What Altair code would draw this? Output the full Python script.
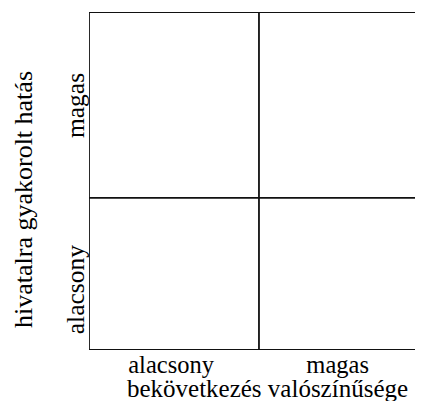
import altair as alt
import pandas as pd

# Category labels (x: likelihood of occurrence, y: impact on office)
x_labels = ["alacsony", "magas"]
y_labels = ["alacsony", "magas"]
x_title = "bekövetkezés valószínűsége"
y_title = "hivatalra gyakorolt hatás"

# Cell boundaries in the chart's own units
x_edges = [0, 1, 2]
y_edges = [0, 0.9, 2]
# Visible part of the x range (the picture is cropped at the right)
x_view = [0, 1.918]
y_view = [0, 2]
# Where the category labels sit
x_label_pos = [0.48, 1.46]
y_label_pos = [0.36, 1.45]

vlines = pd.DataFrame({"x": x_edges, "y0": y_edges[0], "y1": y_edges[-1]})
hlines = pd.DataFrame({"y": y_edges, "x0": x_edges[0], "x1": x_edges[-1]})

FONT = "Liberation Serif, Times New Roman, serif"

def label_expr(pos, labels):
    mid = (pos[0] + pos[1]) / 2
    return f"datum.value < {mid} ? '{labels[0]}' : '{labels[1]}'"

x_scale = alt.Scale(domain=x_view, nice=False, zero=False)
y_scale = alt.Scale(domain=y_view, nice=False, zero=False)

x_axis = alt.Axis(
    values=x_label_pos, labelExpr=label_expr(x_label_pos, x_labels),
    domain=False, ticks=False, tickSize=0, grid=False,
    labelFont=FONT, labelFontSize=24.5, labelColor="#000", labelBaseline="alphabetic",
    labelPadding=22, labelAlign="center", labelFlush=False,
    title=x_title, titleFont=FONT, titleFontSize=25, titleFontWeight="normal",
    titleColor="#000", titleBaseline="alphabetic", titleAlign="center",
    titleX=178, titleY=46.5,
)
y_axis = alt.Axis(
    values=y_label_pos, labelExpr=label_expr(y_label_pos, y_labels),
    domain=False, ticks=False, tickSize=0, grid=False,
    labelFont=FONT, labelFontSize=25.5, labelColor="#000", labelAngle=270,
    labelAlign="center", labelBaseline="alphabetic", labelPadding=6, labelFlush=False,
    title=y_title, titleFont=FONT, titleFontSize=26, titleFontWeight="normal",
    titleColor="#000", titleAngle=270, titleBaseline="alphabetic", titleAlign="center",
    titleX=-58, titleY=187,
)

v = alt.Chart(vlines).mark_rule(color="#111", strokeWidth=1.8, clip=True).encode(
    x=alt.X("x:Q", scale=x_scale, axis=x_axis),
    y=alt.Y("y0:Q", scale=y_scale, axis=y_axis),
    y2="y1:Q",
)
h = alt.Chart(hlines).mark_rule(color="#111", strokeWidth=1.8, clip=True).encode(
    y=alt.Y("y:Q", scale=y_scale),
    x=alt.X("x0:Q", scale=x_scale),
    x2="x1:Q",
)

chart = alt.layer(v, h).properties(
    width=326, height=338,
    autosize=alt.AutoSizeParams(type="none"),
    padding={"left": 81, "top": 4, "right": 0, "bottom": 51},
    background="white",
).configure_view(stroke=None)

chart.save("out.html", embed_options={"renderer": "svg", "actions": False})
